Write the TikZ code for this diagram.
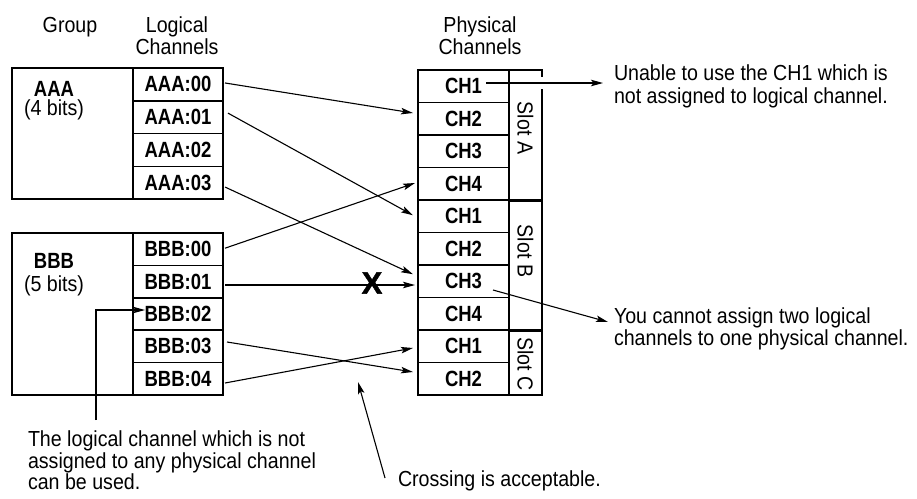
\documentclass[tikz,border=0pt]{standalone}
\usepackage{fontspec}
\setmainfont{Liberation Sans}[FakeStretch=0.9]
\newfontfamily\medfont{Liberation Sans Bold}[FakeStretch=0.84]
\newfontfamily\heavyfont{Liberation Sans Bold}[FakeBold=1.5]
\usetikzlibrary{arrows.meta}
\begin{document}
\begin{tikzpicture}[x=1pt,y=-1pt,
  every node/.style={inner sep=0pt,outer sep=0pt},
  txt/.style={font=\fontsize{21.8}{22.6}\selectfont},
  grp/.style={draw,line width=1.6pt},
  cell/.style={draw,line width=1.5pt,font=\medfont\fontsize{22}{22}\selectfont},
  lcell/.style={cell,minimum width=90pt},
  pcell/.style={cell,minimum width=91pt,minimum height=32.5pt},
  slotbox/.style={draw,line width=1.5pt,minimum width=33pt},
  arr/.style={line width=1.1pt,-{Stealth[length=12pt,width=6.5pt,inset=2.5pt]}},
  lbl/.style={font=\fontsize{21.8}{22}\selectfont,rotate=-90}]
\useasboundingbox (0,0) rectangle (917,498);

% headers
\node[txt,align=center,anchor=north] (hg) at (70,17) {Group};
\node[align=center,anchor=north,font=\fontsize{21.8}{22}\selectfont] (hl) at (177,17) {Logical\\Channels};
\node[align=center,anchor=north,font=\fontsize{21.8}{22}\selectfont] (hp) at (480,17) {Physical\\Channels};

% group boxes
\node[grp,minimum width=211pt,minimum height=131pt] (gA) at (117.5,133.5) {};
\node[grp,minimum width=211pt,minimum height=162pt] (gB) at (117.5,314) {};
\node[align=center,anchor=north,font=\fontsize{21.8}{19.5}\selectfont] (nA) at (54,81) {{\medfont\fontsize{22}{19.5}\selectfont AAA}\\(4 bits)};
\node[align=center,anchor=north,font=\fontsize{21.8}{23}\selectfont] (nB) at (54,253.3) {{\medfont\fontsize{22}{23}\selectfont BBB}\\(5 bits)};

% logical cells
\node[lcell,minimum height=32.75pt] (l00) at (178,84.375) {AAA:00};
\node[lcell,minimum height=32.75pt] (l01) at (178,117.125) {AAA:01};
\node[lcell,minimum height=32.75pt] (l02) at (178,149.875) {AAA:02};
\node[lcell,minimum height=32.75pt] (l03) at (178,182.625) {AAA:03};
\node[lcell,minimum height=32.4pt] (m00) at (178,249.2) {BBB:00};
\node[lcell,minimum height=32.4pt] (m01) at (178,281.6) {BBB:01};
\node[lcell,minimum height=32.4pt] (m02) at (178,314.0) {BBB:02};
\node[lcell,minimum height=32.4pt] (m03) at (178,346.4) {BBB:03};
\node[lcell,minimum height=32.4pt] (m04) at (178,378.8) {BBB:04};

% physical cells
\node[pcell] (pA1) at (463.5,86.25) {CH1};
\node[pcell] (pA2) at (463.5,118.75) {CH2};
\node[pcell] (pA3) at (463.5,151.25) {CH3};
\node[pcell] (pA4) at (463.5,183.75) {CH4};
\node[pcell] (pB1) at (463.5,216.25) {CH1};
\node[pcell] (pB2) at (463.5,248.75) {CH2};
\node[pcell] (pB3) at (463.5,281.25) {CH3};
\node[pcell] (pB4) at (463.5,313.75) {CH4};
\node[pcell] (pC1) at (463.5,346.25) {CH1};
\node[pcell] (pC2) at (463.5,378.75) {CH2};

% slots
\node[slotbox,minimum height=130pt] (sA) at (525.5,135) {};
\node[slotbox,minimum height=130pt] (sB) at (525.5,265) {};
\node[slotbox,minimum height=65pt] (sC) at (525.5,362.5) {};
\draw[line width=3pt] (sA.south west) -- (sA.south east);
\draw[line width=3pt] (sB.south west) -- (sB.south east);
\node[lbl] (tA) at (525.5,128) {Slot A};
\node[lbl] (tB) at (525.5,251) {Slot B};
\node[lbl] (tC) at (525.5,364) {Slot C};
\draw[white,line width=3pt] ([yshift=-7pt]sA.north east) -- ([yshift=-19pt]sA.north east);

% mapping arrows
\draw[arr] ([xshift=2pt,yshift=1.4pt]l00.east) -- ([xshift=-5pt,yshift=5.75pt]pA2.west);
\draw[arr] ([xshift=5pt,yshift=4pt]l01.east) -- ([xshift=-5pt,yshift=1pt]pB1.west);
\draw[arr] ([xshift=2pt,yshift=-4.4pt]l03.east) -- ([xshift=-5pt,yshift=7pt]pB3.west);
\draw[arr] ([xshift=2pt,yshift=1pt]m00.east) -- ([xshift=-3pt,yshift=0.75pt]pA4.west);
\draw[arr] ([xshift=2pt,yshift=-3.4pt]m01.east) -- ([xshift=-3pt,yshift=-3.75pt]pB3.west);
\draw[arr] ([xshift=4pt,yshift=4.4pt]m03.east) -- ([xshift=-5pt,yshift=6.75pt]pC2.west);
\draw[arr] ([xshift=2pt,yshift=-4.2pt]m04.east) -- ([xshift=-5pt,yshift=-1.75pt]pC1.west);
\node[font=\heavyfont\fontsize{31}{31}\selectfont] (xm) at (372,283) {X};

% annotations
\node[txt,align=left,anchor=north west] (n1) at (614,65) {Unable to use the CH1 which is\\not assigned to logical channel.};
\node[txt,align=left,anchor=north west] (n2) at (614,307.3) {You cannot assign two logical\\channels to one physical channel.};
\node[align=left,anchor=north west,font=\fontsize{21.8}{20}\selectfont] (n3) at (28,431) {The logical channel which is not\\assigned to any physical channel\\can be used.};
\node[txt,anchor=north west] (n4) at (398,471) {Crossing is acceptable.};
\coordinate (cross) at (358,382);

\draw[arr] ([xshift=22.5pt,yshift=3.25pt]pA1.center) -- ([xshift=-11pt,yshift=3.25pt]pA1.center -| n1.west);
\draw[arr] ([xshift=29.5pt,yshift=-8.75pt]pB3.center) -- ([xshift=-6pt,yshift=-14.7pt]n2.north west);
\draw[arr] ([xshift=68pt,yshift=11pt]n3.north west) |- ([xshift=-33pt,yshift=4pt]m02.center);
\draw[arr] ([xshift=-13pt,yshift=-7pt]n4.north west) -- (cross);
\end{tikzpicture}
\end{document}
